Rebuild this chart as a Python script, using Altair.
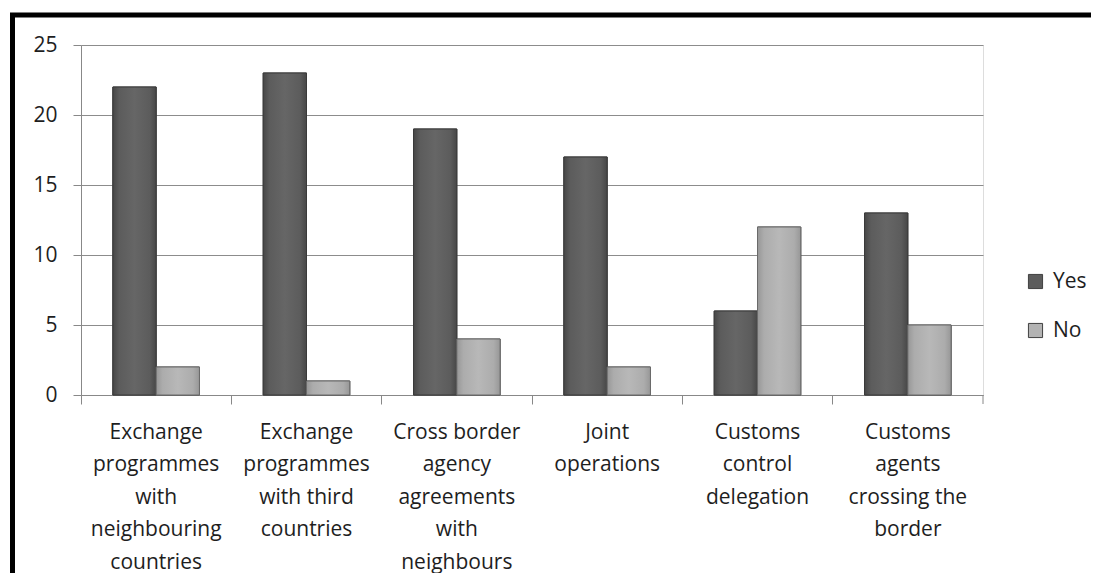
import altair as alt
import pandas as pd

categories = [
    "Exchange\nprogrammes\nwith\nneighbouring\ncountries",
    "Exchange\nprogrammes\nwith third\ncountries",
    "Cross border\nagency\nagreements\nwith\nneighbours",
    "Joint\noperations",
    "Customs\ncontrol\ndelegation",
    "Customs\nagents\ncrossing the\nborder",
]
yes_values = [22, 23, 19, 17, 6, 13]
no_values = [2, 1, 4, 2, 12, 5]
series = ["Yes", "No"]
y_ticks = [0, 5, 10, 15, 20, 25]

rows = []
for c, yv, nv in zip(categories, yes_values, no_values):
    rows.append({"category": c, "series": "Yes", "value": yv})
    rows.append({"category": c, "series": "No", "value": nv})
df = pd.DataFrame(rows)

FONT = "Open Sans"
FS = 21

x_enc = alt.X(
    "category:N",
    sort=categories,
    scale=alt.Scale(paddingInner=0, paddingOuter=0),
    axis=alt.Axis(
        title=None,
        labelExpr="split(datum.label, '\\n')",
        labelAngle=0,
        labelFontSize=FS,
        labelLineHeight=32.5,
        labelPadding=17,
        labelColor="#1e1e1e",
        labelFont=FONT,
        labelLimit=300,
        bandPosition=0,
        tickSize=9,
        tickColor="#888888",
        domainColor="#888888",
        grid=False,
    ),
)
xoff_enc = alt.XOffset(
    "series:N",
    sort=series,
    scale=alt.Scale(domain=series, paddingInner=0, paddingOuter=0.736),
)
y_enc = alt.Y(
    "value:Q",
    scale=alt.Scale(domain=[0, 25]),
    axis=alt.Axis(
        title=None,
        values=y_ticks,
        labelFontSize=FS,
        labelFont=FONT,
        labelColor="#1e1e1e",
        labelPadding=16,
        tickSize=8,
        tickColor="#888888",
        domainColor="#888888",
        gridColor="#8c8c8c",
        grid=True,
    ),
)

base = alt.Chart(df)

bars = base.mark_bar(strokeWidth=1, stroke="#404040").encode(
    x=x_enc,
    xOffset=xoff_enc,
    y=y_enc,
    color=alt.Color(
        "series:N",
        sort=series,
        scale=alt.Scale(domain=series, range=["#5c5c5c", "#b3b3b3"]),
        legend=alt.Legend(
            title=None,
            orient="none",
            legendX=944,
            legendY=226,
            symbolType="square",
            symbolSize=200,
            symbolStrokeColor="#404040",
            symbolStrokeWidth=1,
            labelFontSize=FS,
            labelFont=FONT,
            labelColor="#1e1e1e",
            rowPadding=27,
            labelOffset=7,
        ),
    ),
)

yes_grad = alt.LinearGradient(
    gradient="linear",
    x1=0, x2=1, y1=0, y2=0,
    stops=[
        alt.GradientStop(color="#474747", offset=0),
        alt.GradientStop(color="#5c5c5c", offset=0.15),
        alt.GradientStop(color="#666666", offset=0.5),
        alt.GradientStop(color="#5c5c5c", offset=0.85),
        alt.GradientStop(color="#474747", offset=1),
    ],
)
no_grad = alt.LinearGradient(
    gradient="linear",
    x1=0, x2=1, y1=0, y2=0,
    stops=[
        alt.GradientStop(color="#979797", offset=0),
        alt.GradientStop(color="#acacac", offset=0.15),
        alt.GradientStop(color="#b8b8b8", offset=0.5),
        alt.GradientStop(color="#acacac", offset=0.85),
        alt.GradientStop(color="#979797", offset=1),
    ],
)

yes_bars = base.transform_filter(alt.datum.series == "Yes").mark_bar(
    fill=yes_grad, stroke="#3a3a3a", strokeWidth=1
).encode(x=x_enc, xOffset=xoff_enc, y=y_enc)
no_bars = base.transform_filter(alt.datum.series == "No").mark_bar(
    fill=no_grad, stroke="#6a6a6a", strokeWidth=1
).encode(x=x_enc, xOffset=xoff_enc, y=y_enc)

end_tick = alt.Chart(alt.Data(values=[{}])).mark_rule(color="#888888").encode(
    x=alt.value(902), y=alt.value(350), y2=alt.value(359)
)

border_top = alt.Chart(alt.Data(values=[{}])).mark_rule(
    color="black", strokeWidth=5, strokeCap="square"
).encode(x=alt.value(-68.5), x2=alt.value(1030), y=alt.value(-30))
border_left = alt.Chart(alt.Data(values=[{}])).mark_rule(
    color="black", strokeWidth=5
).encode(x=alt.value(-68.5), y=alt.value(-32), y2=alt.value(700))

chart = alt.layer(bars, yes_bars, no_bars, end_tick, border_top, border_left).properties(
    width=902,
    height=350,
    padding={"left": 73, "top": 37, "right": 108, "bottom": 178},
    autosize=alt.AutoSizeParams(type="none"),
).configure_view(stroke=None).configure(background="white")

chart.save("out.html", embed_options={"renderer": "svg", "actions": False})
